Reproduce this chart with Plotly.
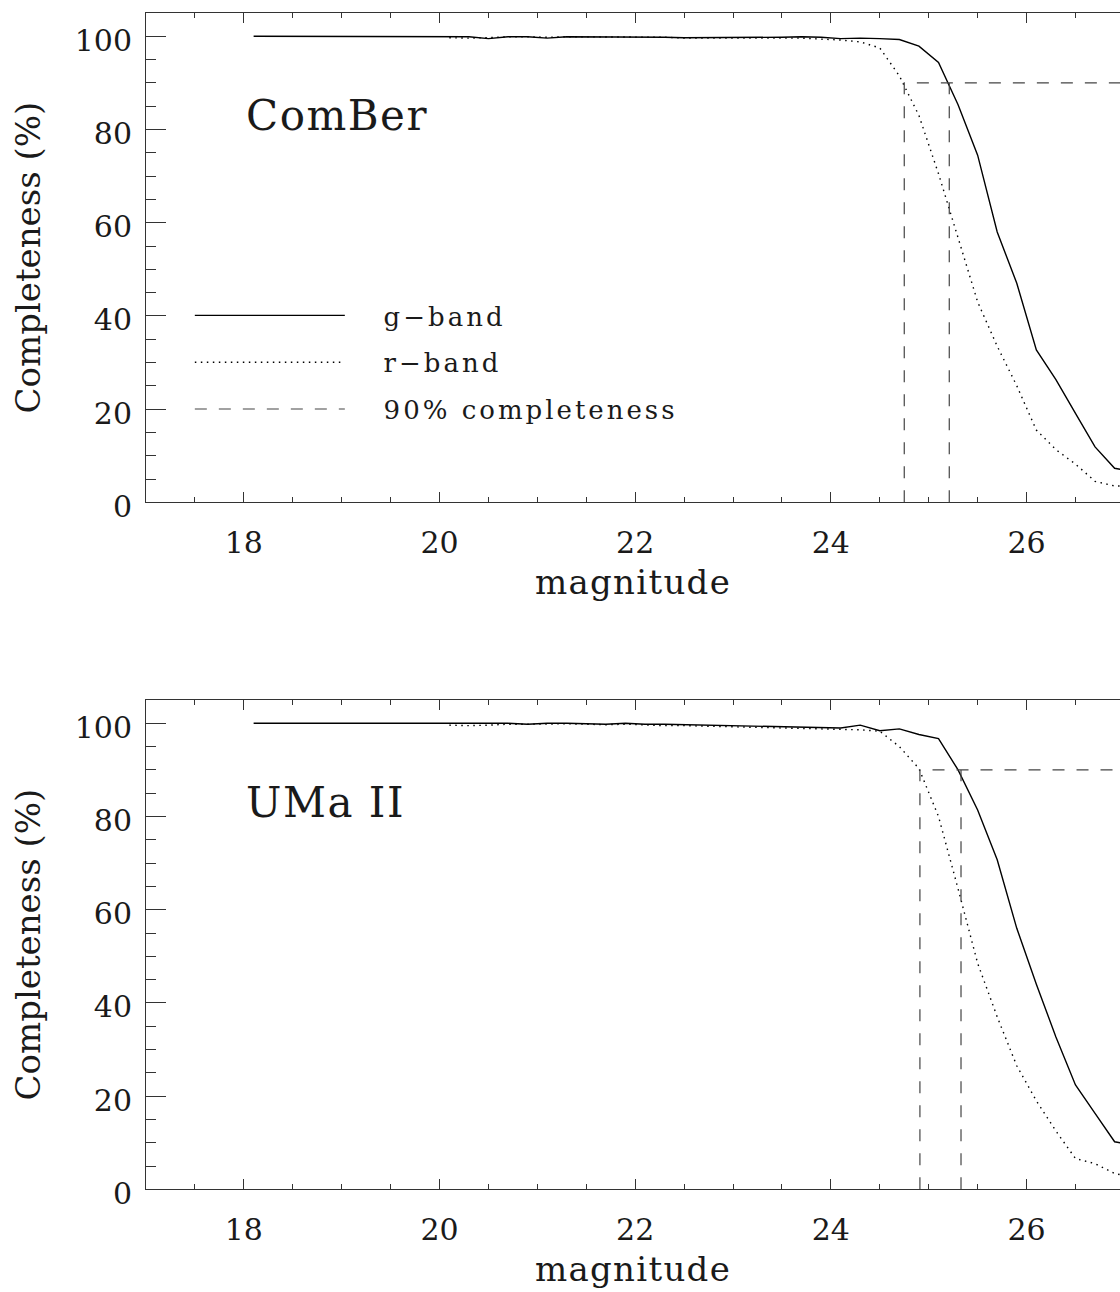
import plotly.graph_objects as go

# ---------------- data ----------------
mag_g = [18.1, 18.3, 18.5, 18.7, 18.9, 19.1, 19.3, 19.5, 19.7, 19.9,
         20.1, 20.3, 20.5, 20.7, 20.9, 21.1, 21.3, 21.5, 21.7, 21.9,
         22.1, 22.3, 22.5, 22.7, 22.9, 23.1, 23.3, 23.5, 23.7, 23.9,
         24.1, 24.3, 24.5, 24.7, 24.9, 25.1, 25.3, 25.5, 25.7, 25.9,
         26.1, 26.3, 26.5, 26.7, 26.9, 27.1]
mag_r = [20.1, 20.3, 20.5, 20.7, 20.9, 21.1, 21.3, 21.5, 21.7, 21.9,
         22.1, 22.3, 22.5, 22.7, 22.9, 23.1, 23.3, 23.5, 23.7, 23.9,
         24.1, 24.3, 24.5, 24.7, 24.9, 25.1, 25.3, 25.5, 25.7, 25.9,
         26.1, 26.3, 26.5, 26.7, 26.9, 27.1]

comber_g = [100, 100, 100, 100, 100, 100, 100, 100, 100, 100,
            100, 99.9, 99.5, 99.9, 99.9, 99.6, 99.9, 99.9, 99.9, 99.9,
            99.9, 99.8, 99.7, 99.7, 99.8, 99.7, 99.7, 99.8, 99.9, 99.8,
            99.5, 99.6, 99.5, 99.3, 97.9, 94.4, 85.3, 74.5, 58.0, 47.0,
            32.7, 26.3, 19.1, 11.9, 7.3, 6.5]
comber_r = [99.7, 99.6, 99.7, 99.9, 99.9, 99.8, 99.9, 99.9, 99.9, 99.9,
            99.9, 99.8, 99.6, 99.6, 99.7, 99.6, 99.6, 99.7, 99.6, 99.4,
            99.2, 98.8, 97.5, 91.5, 83.0, 70.5, 57.0, 43.0, 33.5, 25.0,
            15.5, 11.3, 8.2, 4.5, 3.5, 3.5]

umaii_g = [100, 100, 100, 100, 100, 100, 100, 100, 100, 100,
           100, 100, 100, 100, 99.8, 100, 100, 99.9, 99.8, 100,
           99.8, 99.8, 99.7, 99.6, 99.6, 99.4, 99.3, 99.2, 99.2, 99.1,
           99.0, 99.6, 98.4, 98.8, 97.6, 96.7, 90.0, 81.4, 70.7, 56.0,
           44.0, 32.7, 22.4, 16.3, 10.2, 9.5]
umaii_r = [99.6, 99.5, 99.6, 99.8, 99.8, 99.9, 99.9, 99.8, 99.7, 99.8,
           99.6, 99.5, 99.5, 99.4, 99.3, 99.2, 99.1, 99.0, 99.0, 98.9,
           98.7, 98.6, 98.3, 95.0, 90.3, 80.0, 64.5, 48.5, 37.0, 26.5,
           19.0, 12.5, 6.6, 5.5, 3.4, 2.5]

# 90% completeness magnitudes [r, g] and level
comber_m90 = [24.75, 25.21]
umaii_m90 = [24.91, 25.33]
level90 = 90
x_end = 28.0

panel_names = ["ComBer", "UMa II"]
legend_names = ["g\u2212band", "r\u2212band", "90% completeness"]
x_ticks = [18, 20, 22, 24, 26]
y_ticks = [0, 20, 40, 60, 80, 100]

# ---------------- style ----------------
FONT = "DejaVu Serif"
INK = "#1a1a1a"
AX = "#333333"


def ls(txt, px):
    return f"<span style='letter-spacing:{px}px'>{txt}</span>"


def leg(txt):
    return ls("\u00a0\u00a0\u00a0" + txt, 3)


fig = go.Figure()

panels = [
    ("x", "y", comber_g, comber_r, comber_m90, True),
    ("x2", "y2", umaii_g, umaii_r, umaii_m90, False),
]
for xr, yr, gv, rv, m90, show in panels:
    fig.add_trace(go.Scatter(
        x=mag_g, y=gv, mode="lines", xaxis=xr, yaxis=yr,
        line=dict(color="black", width=1.4),
        name=leg(legend_names[0]), showlegend=show, legendgroup="g"))
    fig.add_trace(go.Scatter(
        x=mag_r, y=rv, mode="lines", xaxis=xr, yaxis=yr,
        line=dict(color="black", width=1.4, dash="1.5px,4.5px"),
        name=leg(legend_names[1]), showlegend=show, legendgroup="r"))
    fig.add_trace(go.Scatter(
        x=[m90[0], m90[0], x_end, None, m90[1], m90[1]],
        y=[0, level90, level90, None, 0, level90],
        mode="lines", xaxis=xr, yaxis=yr,
        line=dict(color="#444444", width=1.2, dash="12px,12px"),
        name=leg(legend_names[2]), showlegend=show, legendgroup="t"))

xr_range = [17, 26.955]
tickfont = dict(family=FONT, size=30, color=INK)
titlefont = dict(family=FONT, size=34, color=INK)

common_x = dict(
    range=xr_range, tickvals=x_ticks, ticktext=[str(v) for v in x_ticks],
    ticks="inside", ticklen=10, tickwidth=1, tickcolor=AX,
    minor=dict(dtick=0.5, tick0=17, ticks="inside", ticklen=5, tickcolor=AX, tickwidth=1),
    showline=True, linecolor=AX, linewidth=1, mirror="ticks",
    showgrid=False, zeroline=False, tickfont=tickfont, ticklabelstandoff=14,
    title=dict(text=ls("magnitude", 1.3), font=titlefont, standoff=10),
    automargin=False,
)
common_y = dict(
    range=[0, 105], tickvals=y_ticks, ticktext=[str(v) for v in y_ticks],
    ticks="inside", ticklen=20, tickwidth=1, tickcolor=AX,
    minor=dict(dtick=5, tick0=0, ticks="inside", ticklen=10, tickcolor=AX, tickwidth=1),
    showline=True, linecolor=AX, linewidth=1, mirror=False,
    showgrid=False, zeroline=False, tickfont=tickfont, ticklabelstandoff=7,
    ticklabelshift=4,
    title=dict(text="Completeness (%)", font=titlefont, standoff=23),
    automargin=False,
)
right_y = dict(
    range=[0, 105], tickvals=y_ticks, showticklabels=False,
    ticks="inside", ticklen=14, tickwidth=1, tickcolor=AX,
    minor=dict(dtick=5, tick0=0, ticks="inside", ticklen=4, tickcolor=AX, tickwidth=1),
    showline=False, showgrid=False, zeroline=False, side="right",
)

dom_top = [1 - 502.3 / 1292, 1 - 13 / 1292]
dom_bot = [1 - 1189.3 / 1292, 1 - 700 / 1292]

fig.update_layout(
    width=1120, height=1292,
    margin=dict(l=146, r=0, t=0, b=0),
    paper_bgcolor="white", plot_bgcolor="white",
    font=dict(family=FONT, color=INK),
    xaxis=dict(**common_x, domain=[0, 1], anchor="y"),
    yaxis=dict(**common_y, domain=dom_top, anchor="x"),
    xaxis2=dict(**common_x, domain=[0, 1], anchor="y2"),
    yaxis2=dict(**common_y, domain=dom_bot, anchor="x2"),
    yaxis3=dict(**right_y, overlaying="y", anchor="x"),
    yaxis4=dict(**right_y, overlaying="y2", anchor="x2"),
    showlegend=True,
    legend=dict(
        x=0.045, y=1 - 292 / 1292, xanchor="left", yanchor="top",
        itemwidth=150, font=dict(family=FONT, size=26, color=INK),
        tracegroupgap=10, bgcolor="rgba(0,0,0,0)", traceorder="grouped",
    ),
)

for name, xr, yr in [(panel_names[0], "x", "y"), (panel_names[1], "x2", "y2")]:
    fig.add_annotation(
        x=18.0, y=83, xref=xr, yref=yr, text=ls(name, 1.5),
        showarrow=False, xanchor="left", yanchor="middle",
        font=dict(family=FONT, size=42, color=INK))

fig.write_html("out.html")
